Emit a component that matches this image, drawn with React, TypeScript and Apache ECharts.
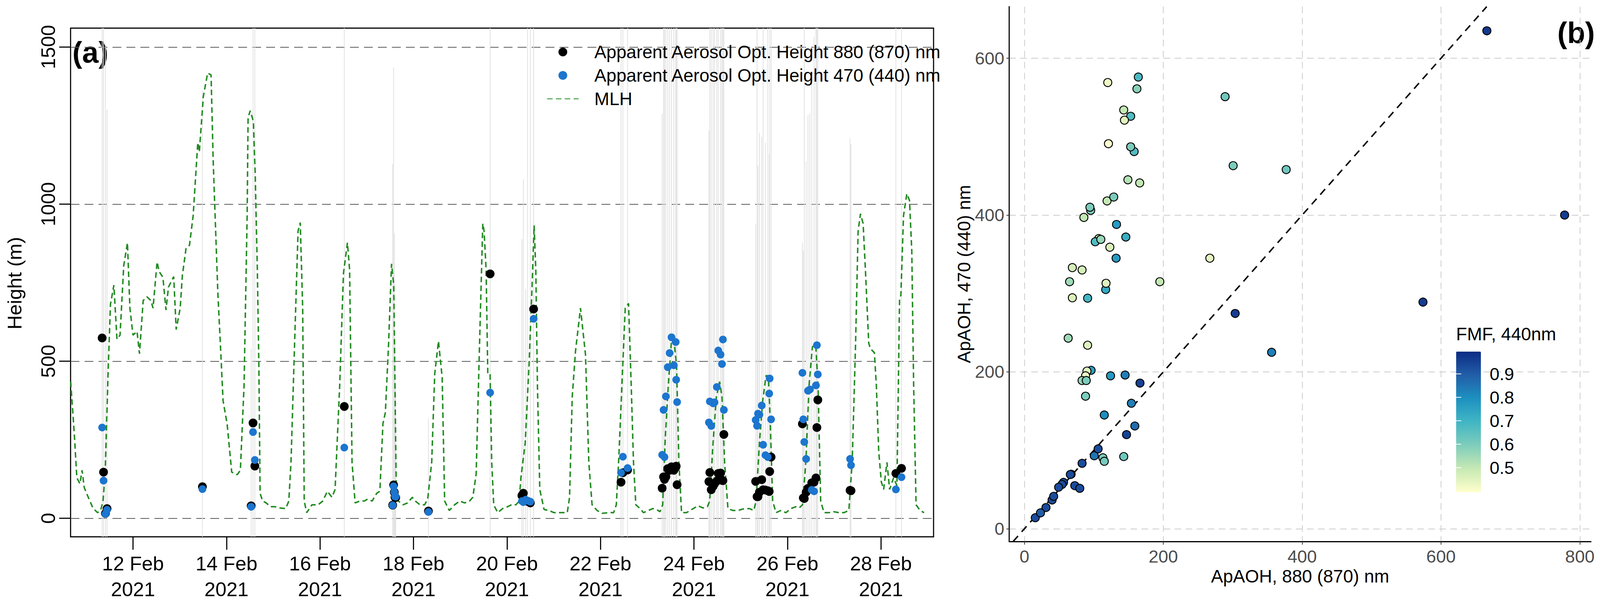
import { useEffect, useRef } from "react";
import * as echarts from "echarts";

// Mixing layer height: day of February 2021 (fractional) and height in metres
const mlhDay = [
  10.667, 10.746, 10.799, 10.865, 10.911, 10.957, 11.043, 11.142, 11.241, 11.307,
  11.36, 11.406, 11.472, 11.518, 11.591, 11.657, 11.723, 11.802, 11.881, 11.934,
  12.0, 12.086, 12.139, 12.218, 12.297, 12.383, 12.429, 12.515, 12.561, 12.64,
  12.706, 12.759, 12.871, 12.924, 13.01, 13.056, 13.135, 13.208, 13.287, 13.386,
  13.419, 13.505, 13.597, 13.67, 13.716, 13.815, 13.868, 13.927, 14.013, 14.112,
  14.231, 14.297, 14.376, 14.442, 14.462, 14.508, 14.574, 14.614, 14.66, 14.693,
  14.719, 14.772, 14.851, 14.937, 15.036, 15.135, 15.267, 15.333, 15.38, 15.465,
  15.531, 15.578, 15.63, 15.663, 15.716, 15.828, 15.96, 16.059, 16.158, 16.257,
  16.323, 16.422, 16.502, 16.587, 16.634, 16.686, 16.752, 16.851, 16.95, 17.017,
  17.116, 17.215, 17.281, 17.347, 17.399, 17.465, 17.531, 17.578, 17.63, 17.677,
  17.776, 17.875, 17.974, 18.04, 18.139, 18.238, 18.304, 18.39, 18.455, 18.535,
  18.614, 18.667, 18.766, 18.88, 18.987, 19.093, 19.199, 19.27, 19.341, 19.412,
  19.483, 19.511, 19.554, 19.59, 19.639, 19.674, 19.717, 19.802, 19.908, 20.014,
  20.12, 20.191, 20.262, 20.298, 20.39, 20.475, 20.532, 20.581, 20.617, 20.652,
  20.702, 20.794, 20.9, 21.006, 21.148, 21.29, 21.339, 21.396, 21.467, 21.573,
  21.68, 21.751, 21.821, 21.928, 22.034, 22.176, 22.282, 22.339, 22.388, 22.459,
  22.53, 22.601, 22.658, 22.707, 22.757, 22.849, 22.92, 23.026, 23.118, 23.203,
  23.274, 23.331, 23.381, 23.451, 23.522, 23.579, 23.629, 23.678, 23.735, 23.841,
  23.983, 24.089, 24.196, 24.288, 24.337, 24.408, 24.479, 24.55, 24.6, 24.656,
  24.727, 24.833, 24.94, 25.082, 25.188, 25.28, 25.33, 25.4, 25.471, 25.542,
  25.592, 25.634, 25.684, 25.755, 25.861, 25.967, 26.074, 26.18, 26.251, 26.322,
  26.393, 26.463, 26.534, 26.605, 26.655, 26.711, 26.782, 26.889, 26.995, 27.101,
  27.208, 27.314, 27.385, 27.456, 27.512, 27.562, 27.619, 27.668, 27.739, 27.775,
  27.86, 27.902, 27.952, 28.008, 28.058, 28.129, 28.186, 28.271, 28.342, 28.398,
  28.427, 28.483, 28.554, 28.611, 28.66, 28.7, 28.752, 28.837, 28.923,
];
const mlhHeight = [
  435, 264, 129, 110, 153, 98, 67, 33, 18, 25,
  55, 153, 485, 681, 742, 570, 583, 804, 877, 669,
  583, 595, 524, 693, 705, 693, 669, 816, 785, 767,
  663, 736, 769, 601, 669, 773, 859, 869, 963, 1196,
  1166, 1343, 1417, 1411, 1135, 718, 558, 374, 301, 147,
  139, 153, 423, 963, 1276, 1297, 1264, 1098, 791, 485,
  80, 55, 49, 37, 37, 33, 31, 55, 178, 595,
  914, 941, 669, 55, 18, 43, 43, 55, 86, 67,
  92, 423, 779, 877, 791, 178, 49, 55, 55, 61,
  55, 80, 86, 301, 337, 546, 810, 742, 116, 55,
  43, 49, 67, 55, 43, 43, 61, 178, 460, 564,
  448, 55, 25, 43, 55, 49, 55, 67, 141, 546,
  938, 914, 791, 460, 460, 178, 43, 18, 31, 37,
  45, 43, 55, 129, 239, 497, 718, 932, 791, 423,
  92, 28, 25, 18, 18, 18, 67, 386, 533, 669,
  521, 178, 43, 25, 16, 18, 18, 43, 178, 423,
  669, 684, 423, 178, 43, 31, 18, 25, 31, 28,
  21, 43, 239, 423, 570, 558, 485, 178, 18, 18,
  31, 40, 33, 37, 55, 239, 386, 435, 386, 178,
  31, 25, 25, 31, 31, 25, 55, 239, 374, 454,
  454, 301, 55, 18, 25, 18, 31, 37, 33, 43,
  178, 423, 546, 552, 423, 55, 18, 18, 21, 18,
  18, 25, 178, 546, 914, 969, 938, 791, 558, 540,
  527, 423, 215, 116, 92, 178, 92, 129, 104, 693,
  711, 963, 1033, 1012, 852, 423, 43, 25, 18,
];

// Observations: time, apparent aerosol optical heights, fine mode fraction, profile top
const obsDay = [
  11.34, 11.37, 11.41, 11.445, 13.485, 14.528, 14.568, 14.607, 16.52, 17.555,
  17.575, 17.59, 17.605, 17.62, 18.32, 19.64, 20.32, 20.35, 20.4, 20.44,
  20.5, 20.57, 22.44, 22.48, 22.58, 23.32, 23.35, 23.37, 23.4, 23.44,
  23.48, 23.52, 23.57, 23.61, 23.62, 23.64, 24.32, 24.34, 24.37, 24.41,
  24.44, 24.49, 24.52, 24.57, 24.6, 24.62, 24.64, 25.32, 25.35, 25.37,
  25.4, 25.45, 25.48, 25.53, 25.58, 25.61, 25.62, 25.65, 26.32, 26.34,
  26.36, 26.4, 26.44, 26.48, 26.52, 26.57, 26.61, 26.63, 26.65, 27.34,
  27.36, 28.32, 28.44,
];
const aoh880 = [
  574, 147, 15.6, 31, 100.6, 39.8, 303.5, 166.4, 356, 42.1,
  106.1, 83, 67.2, 66.1, 23.1, 778, 72.5, 79.7, 56.3, 54.1,
  49.2, 666, 115, 145, 154, 96, 132, 124, 132.6, 158,
  153, 164, 153, 162, 166, 107, 117, 146, 91, 102,
  110, 119, 143, 144, 121, 120, 267, 117.5, 69, 69,
  83, 123, 91, 90, 88, 85.6, 149, 195, 300.6, 65,
  63, 83, 95.4, 94.3, 113, 115, 128.6, 289, 377, 89,
  88, 143, 159,
];
const aoh470 = [
  289, 120, 14, 27, 93, 36.6, 274.5, 185.7, 225, 41.3,
  101.8, 83.4, 69.5, 69.1, 20.2, 400, 54.9, 51.5, 59.1, 56.4,
  52.9, 635, 145, 196, 160, 202, 345, 195, 388, 481,
  526, 576, 487, 561, 441, 370, 305, 372, 294, 366,
  369, 418, 534, 521, 491, 569, 345, 313, 294.5, 333,
  330, 359, 234, 201, 195, 397, 445, 315, 463, 315,
  243, 189, 406, 410, 90.5, 86, 423, 551, 458, 189,
  169, 92, 131,
];
const fmf440 = [
  0.96, 0.95, 0.93, 0.93, 0.85, 0.93, 0.96, 0.95, 0.83, 0.93,
  0.93, 0.93, 0.93, 0.93, 0.9, 0.96, 0.93, 0.93, 0.93, 0.93,
  0.93, 0.97, 0.8, 0.83, 0.83, 0.76, 0.77, 0.77, 0.77, 0.67,
  0.67, 0.68, 0.6, 0.58, 0.5, 0.5, 0.73, 0.72, 0.69, 0.67,
  0.56, 0.5, 0.5, 0.45, 0.4, 0.42, 0.44, 0.45, 0.46, 0.47,
  0.47, 0.46, 0.45, 0.45, 0.43, 0.5, 0.52, 0.5, 0.6, 0.55,
  0.55, 0.56, 0.6, 0.6, 0.6, 0.61, 0.6, 0.62, 0.62, 0.6,
  0.6, 0.62, 0.87,
];
const profileTop = [
  1600, 1600, 1500, 1300, 1361, 540, 1600, 1600, 1600, 1128,
  1435, 907, 576, 420, 319, 1600, 889, 1079, 730, 1600,
  1600, 1600, 1600, 1600, 1600, 1288, 1600, 1600, 1600, 1600,
  1600, 1600, 1600, 1600, 1600, 1600, 1233, 1600, 1600, 1600,
  1600, 1600, 1600, 1600, 1600, 1600, 1600, 938, 1600, 1122,
  1227, 1214, 1600, 1196, 1600, 1159, 1600, 1600, 877, 852,
  1600, 1135, 1282, 1288, 1404, 1533, 1600, 1600, 1600, 1208,
  1190, 1600, 1600,
];

const dateTicks = [12, 14, 16, 18, 20, 22, 24, 26, 28];
const heightTicks = [0, 500, 1000, 1500];
const aohXTicks = [0, 200, 400, 600, 800];
const aohYTicks = [0, 200, 400, 600];
const fmfTicks = [0.5, 0.6, 0.7, 0.8, 0.9];
const ylgnbu = ["#ffffcc", "#c7e9b4", "#7fcdbb", "#41b6c4", "#1d91c0", "#225ea8", "#0c2c84"];

const dayMin = 10.665;
const dayMax = 29.126;
const hMin = -58.8;
const hMax = 1560;
const bxMin = -22;
const bxMax = 816;
const byMin = -16.3;
const byMax = 665.8;
const fmfMin = 0.395;
const fmfMax = 0.995;

const font = "'Liberation Sans', Arial, Helvetica, sans-serif";
const name880 = "Apparent Aerosol Opt. Height 880 (870) nm";
const name470 = "Apparent Aerosol Opt. Height 470 (440) nm";

// layout is measured on a 4624 x 1546 canvas and scaled to the window
const REF_W = 4624;
const REF_H = 1546;

const App: React.FC = () => {
  const chartRef = useRef<HTMLDivElement>(null);

  useEffect(() => {
    document.body.style.margin = "0";
    document.body.style.overflow = "hidden";
    const el = chartRef.current;
    if (!el) return;
    const W = document.documentElement.clientWidth || window.innerWidth || REF_W;
    const H = document.documentElement.clientHeight || window.innerHeight || REF_H;
    const kx = W / REF_W;
    const ky = H / REF_H;
    const km = Math.sqrt(kx * ky);
    const sx = (v: number) => v * kx;
    const sy = (v: number) => v * ky;
    const sm = (v: number) => v * km;
    el.style.width = `${W}px`;
    el.style.height = `${H}px`;

    const chart = echarts.init(el, null, { renderer: "svg" });

    const option = {
      animation: false,
      textStyle: { fontFamily: font },
      grid: [
        { left: sx(204), top: sy(72), width: sx(2494), height: sy(1302), show: true, borderColor: "#000", borderWidth: sm(3), backgroundColor: "transparent" },
        { left: sx(2916.5), top: sy(17), width: sx(1681.5), height: sy(1369) },
        { left: sx(4208), top: sy(900), width: sx(72), height: sy(360) },
      ],
      xAxis: [
        {
          gridIndex: 0, type: "value", min: dayMin, max: dayMax,
          axisLine: { show: false, onZero: false },
          axisTick: { show: true, customValues: dateTicks, length: sy(33), lineStyle: { color: "#000", width: sm(3) } },
          axisLabel: {
            customValues: dateTicks, formatter: (v: number) => `${v} Feb\n2021`,
            fontSize: sm(54), lineHeight: sy(66), color: "#000", margin: sy(35),
          },
          splitLine: { show: false },
        },
        {
          gridIndex: 1, type: "value", min: bxMin, max: bxMax,
          name: "ApAOH, 880 (870) nm", nameLocation: "middle", nameGap: sy(64),
          nameTextStyle: { fontSize: sm(49), color: "#000" },
          axisLine: { onZero: false, lineStyle: { color: "#000", width: sm(3) } },
          axisTick: { customValues: aohXTicks, length: sy(8), lineStyle: { color: "#333", width: sm(2) } },
          axisLabel: { customValues: aohXTicks, fontSize: sm(48), color: "#4d4d4d", margin: sy(16) },
          splitLine: { show: true, lineStyle: { color: "#cccccc", width: sm(2), type: [sm(18), sm(12)] } },
        },
        { gridIndex: 2, type: "value", min: 0, max: 1, show: false },
      ],
      yAxis: [
        {
          gridIndex: 0, type: "value", min: hMin, max: hMax,
          axisLine: { show: false, onZero: false },
          axisTick: { show: true, customValues: heightTicks, length: sx(33), lineStyle: { color: "#000", width: sm(3) } },
          axisLabel: { customValues: heightTicks, rotate: 90, fontSize: sm(54), color: "#000", margin: sx(36), formatter: (v: number) => String(v) },
          splitLine: { show: true, lineStyle: { color: "#5a5a5a", width: sm(2), type: [sm(24), sm(14)] } },
        },
        {
          gridIndex: 1, type: "value", min: byMin, max: byMax,
          name: "ApAOH, 470 (440) nm", nameLocation: "middle", nameGap: sx(104),
          nameTextStyle: { fontSize: sm(49), color: "#000" },
          axisLine: { onZero: false, lineStyle: { color: "#000", width: sm(3) } },
          axisTick: { customValues: aohYTicks, length: sx(8), lineStyle: { color: "#333", width: sm(2) } },
          axisLabel: { customValues: aohYTicks, fontSize: sm(48), color: "#4d4d4d", margin: sx(14) },
          splitLine: { show: true, lineStyle: { color: "#cccccc", width: sm(2), type: [sm(18), sm(12)] } },
        },
        {
          gridIndex: 2, type: "value", min: fmfMin, max: fmfMax, position: "right", z: 10,
          axisLine: { show: false },
          axisTick: { show: true, inside: true, customValues: fmfTicks, length: sx(15), lineStyle: { color: "#fff", width: sm(2) } },
          axisLabel: { customValues: fmfTicks, fontSize: sm(48), color: "#000", margin: sx(25), formatter: (v: number) => v.toFixed(1) },
          splitLine: { show: false },
        },
        {
          gridIndex: 2, type: "value", min: fmfMin, max: fmfMax, position: "left", z: 10,
          name: "FMF, 440nm", nameLocation: "end", nameGap: sy(22),
          nameTextStyle: { fontSize: sm(49), color: "#000", align: "left", verticalAlign: "bottom" },
          axisLine: { show: false },
          axisTick: { show: true, inside: true, customValues: fmfTicks, length: sx(15), lineStyle: { color: "#fff", width: sm(2) } },
          axisLabel: { show: false },
          splitLine: { show: false },
        },
      ],
      legend: {
        orient: "vertical", left: sx(1580), top: sy(103), padding: 0,
        itemWidth: sx(91), itemHeight: sm(24), itemGap: 0, selectedMode: false,
        textStyle: { fontSize: sx(52), color: "#000", lineHeight: sy(60), padding: [0, 0, 0, sx(40)] },
        data: [
          name880,
          name470,
          { name: "MLH", itemStyle: { color: "transparent", borderColor: "transparent", opacity: 0 } },
        ],
      },
      visualMap: {
        type: "continuous", min: fmfMin, max: fmfMax, dimension: 2, seriesIndex: 5,
        inRange: { color: ylgnbu }, calculable: false, left: sx(4208), top: sy(900),
        itemWidth: sx(72), itemHeight: sy(360), padding: 0, text: ["", ""], textGap: 0,
      },
      graphic: [
        { type: "text", x: sx(261), y: sy(134), style: { text: "(a)", fontSize: sm(80), fontWeight: "bold", fontFamily: font, fill: "#000", align: "center", verticalAlign: "middle" } },
        { type: "text", x: sx(4555), y: sy(84), style: { text: "(b)", fontSize: sm(80), fontWeight: "bold", fontFamily: font, fill: "#000", align: "center", verticalAlign: "middle" } },
        { type: "text", x: sx(42), y: sy(725), rotation: Math.PI / 2, style: { text: "Height (m)", fontSize: sm(54), fontFamily: font, fill: "#000", align: "center", verticalAlign: "middle" } },
      ],
      series: [
        {
          name: "profiles", type: "custom", xAxisIndex: 0, yAxisIndex: 0, z: 1, silent: true,
          encode: { x: 0, y: 1 },
          data: obsDay.map((d, i) => [d, Math.min(profileTop[i], hMax)]),
          renderItem: (_params: any, api: any) => {
            const bottom = api.coord([api.value(0), hMin]);
            const top = api.coord([api.value(0), api.value(1)]);
            return {
              type: "line",
              shape: { x1: bottom[0], y1: bottom[1], x2: top[0], y2: top[1] },
              style: { stroke: "#e0e0e0", lineWidth: sm(2) },
            };
          },
        },
        {
          name: "MLH", type: "line", xAxisIndex: 0, yAxisIndex: 0, z: 2,
          symbol: "none", showSymbol: false,
          lineStyle: { color: "#228B22", width: sm(4), type: [sm(15), sm(9)] },
          itemStyle: { color: "#228B22" },
          data: mlhDay.map((d, i) => [d, mlhHeight[i]]),
        },
        {
          name: name880, type: "scatter", xAxisIndex: 0, yAxisIndex: 0, z: 3,
          symbolSize: sm(24), itemStyle: { color: "#000", opacity: 1 },
          data: obsDay.map((d, i) => [d, aoh880[i]]),
        },
        {
          name: name470, type: "scatter", xAxisIndex: 0, yAxisIndex: 0, z: 4,
          symbolSize: sm(21), itemStyle: { color: "#1c75cf", opacity: 1 },
          data: obsDay.map((d, i) => [d, aoh470[i]]),
        },
        {
          name: "1:1", type: "line", xAxisIndex: 1, yAxisIndex: 1, z: 2,
          symbol: "none", silent: true,
          lineStyle: { color: "#000", width: sm(4), type: [sm(20), sm(15)] },
          data: [[byMin, byMin], [byMax, byMax]],
        },
        {
          name: "FMF", type: "scatter", xAxisIndex: 1, yAxisIndex: 1, z: 3,
          symbolSize: sm(22), itemStyle: { borderColor: "#000", borderWidth: sm(2.5), opacity: 1 },
          data: obsDay.map((_d, i) => [aoh880[i], aoh470[i], fmf440[i]]),
        },
      ],
    };

    chart.setOption(option as any);
    return () => {
      chart.dispose();
    };
  }, []);

  return <div ref={chartRef} style={{ width: "4624px", height: "1546px" }} />;
};

export default App;
